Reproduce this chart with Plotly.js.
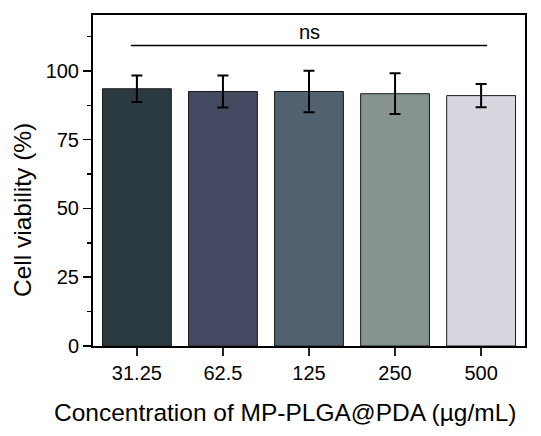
<!DOCTYPE html>
<html>
<head>
<meta charset="utf-8">
<script src="https://cdn.plot.ly/plotly-3.0.1.min.js"></script>
<style>html,body{margin:0;padding:0;background:#fff;}#chart{width:541px;height:436px;}</style>
</head>
<body>
<div id="chart"></div>
<script>
const categories = ["31.25", "62.5", "125", "250", "500"];
const viability = [93.5, 92.5, 92.5, 91.7, 91.0];
const errors = [4.8, 5.8, 7.5, 7.4, 4.2];
const barColors = ["#2b3a41", "#424960", "#52616f", "#859391", "#d6d7df"];
const yTickVals = [0, 25, 50, 75, 100];
const sigLabel = "ns";
const sigLevel = 109.2;

const FONT = "Arial, 'Liberation Sans', sans-serif";

const trace = {
  type: "bar",
  x: categories,
  y: viability,
  marker: { color: barColors, line: { color: "#1a1a1a", width: 1 } },
  error_y: { type: "data", array: errors, visible: true, color: "#000", thickness: 2, width: 5.5 },
  hoverinfo: "x+y"
};

const layout = {
  width: 541, height: 436,
  margin: { l: 93, r: 16, t: 15, b: 90 },
  paper_bgcolor: "#fff", plot_bgcolor: "#fff",
  showlegend: false,
  bargap: 0.2,
  font: { family: FONT, color: "#000", size: 20 },
  xaxis: {
    type: "category",
    range: [-0.51, 4.51],
    showline: true, mirror: true, linecolor: "#000", linewidth: 2,
    ticks: "outside", ticklen: 8, tickwidth: 2, tickcolor: "#222",
    tickfont: { family: FONT, size: 20, color: "#000" },
    showgrid: false, zeroline: false,
    fixedrange: true
  },
  yaxis: {
    range: [0, 120.3],
    tickvals: yTickVals,
    showline: true, mirror: true, linecolor: "#000", linewidth: 2,
    ticks: "outside", ticklen: 8, tickwidth: 1.5, tickcolor: "#000",
    minor: { dtick: 12.5, tick0: 0, ticks: "outside", ticklen: 4, tickwidth: 1.5, tickcolor: "#000", showgrid: false },
    tickfont: { family: FONT, size: 20, color: "#000" },
    showgrid: false, zeroline: false,
    fixedrange: true
  },
  shapes: [
    { type: "line", xref: "x", yref: "y", x0: -0.07, x1: 4.07, y0: sigLevel, y1: sigLevel,
      line: { color: "#000", width: 1.5 } }
  ],
  annotations: [
    { xref: "x", yref: "y", x: 2, y: 114, text: sigLabel, showarrow: false,
      font: { family: FONT, size: 20, color: "#000" }, xanchor: "center", yanchor: "middle" },
    { xref: "paper", yref: "paper", x: -0.162, y: 0.411, text: "Cell viability (%)", textangle: -90,
      showarrow: false, font: { family: FONT, size: 24.5, color: "#000" }, xanchor: "center", yanchor: "middle" },
    { xref: "paper", yref: "paper", x: 0.444, y: -0.202, text: "Concentration of MP-PLGA@PDA (µg/mL)",
      showarrow: false, font: { family: FONT, size: 24.5, color: "#000" }, xanchor: "center", yanchor: "middle" }
  ]
};

Plotly.newPlot("chart", [trace], layout, { displayModeBar: false, staticPlot: true });
</script>
</body>
</html>
